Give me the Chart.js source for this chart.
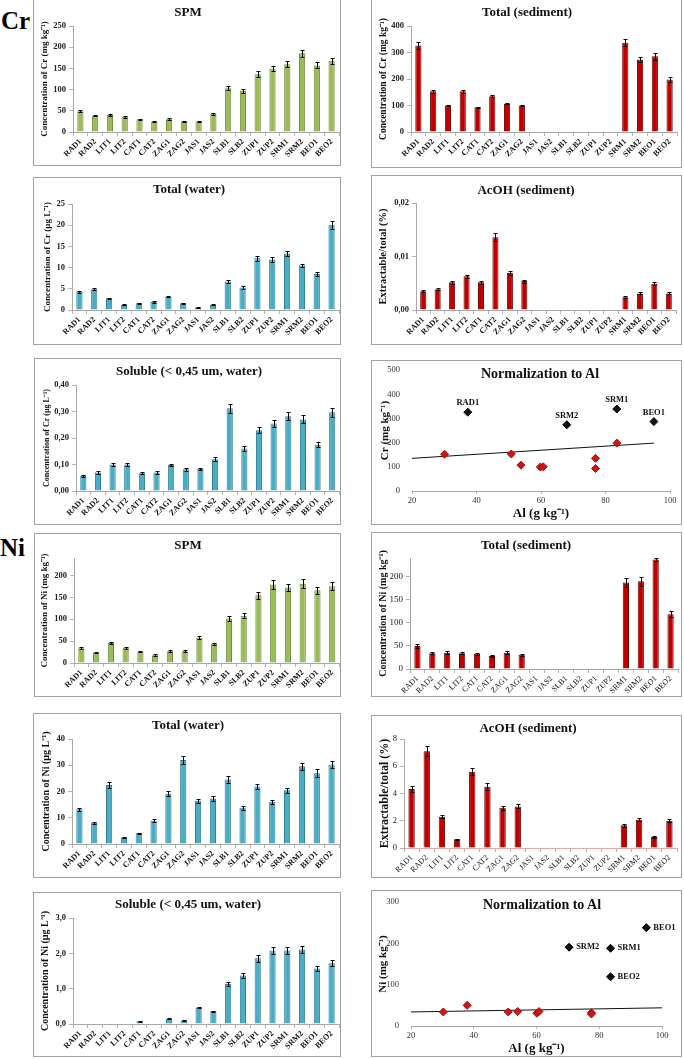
<!DOCTYPE html>
<html>
<head>
<meta charset="utf-8">
<script src="https://cdn.jsdelivr.net/npm/chart.js@4.4.1/dist/chart.umd.min.js"></script>
<style>
  body { margin: 0; background: #fff; width: 684px; height: 1059px; overflow: hidden; position: relative; font-family: "Liberation Serif", serif; }
  .panel { position: absolute; border: 1px solid #a3a3a3; box-sizing: border-box; background: #fff; }
  .panel canvas { position: absolute; left: 0; top: 0; }
  .ttl { position: absolute; transform: translate(-50%, -50%); font-weight: bold; white-space: nowrap; color: #111; }
  .el { position: absolute; font-weight: bold; font-size: 25px; line-height: 25px; color: #000; }
</style>
</head>
<body>
<div class="el" style="left:1px;top:8px">Cr</div>
<div class="el" style="left:0px;top:535px">Ni</div>
<script>
// sampling sites
const sites = ['RAD1','RAD2','LIT1','LIT2','CAT1','CAT2','ZAG1','ZAG2','JAS1','JAS2','SLB1','SLB2','ZUP1','ZUP2','SRM1','SRM2','BEO1','BEO2'];

// --- Cr ---
const crSpm    = [49, 39, 40, 36, 30, 25, 30, 24, 25, 43, 103, 97, 136, 150, 160, 186, 157, 168];
const crSpmErr = [3, 2, 2, 2, 1.5, 1.5, 2, 1.5, 1.5, 2, 5, 4, 7, 6, 7, 8, 7, 7];
const crSed    = [326, 154, 100, 154, 93, 135, 107, 100, null, null, null, null, null, null, 337, 274, 286, 198];
const crSedErr = [13, 6, 3, 6, 3, 4, 3, 3, null, null, null, null, null, null, 14, 10, 13, 9];
const crWater    = [4.3, 4.9, 2.75, 1.2, 1.6, 1.9, 3.1, 1.6, 0.55, 1.25, 6.7, 5.3, 12.2, 11.9, 13.3, 10.5, 8.5, 20.1];
const crWaterErr = [0.25, 0.3, 0.15, 0.1, 0.1, 0.15, 0.15, 0.1, 0.05, 0.1, 0.4, 0.3, 0.6, 0.6, 0.6, 0.45, 0.45, 1.0];
const crAcoh    = [0.0035, 0.0039, 0.0052, 0.0063, 0.0052, 0.0136, 0.0069, 0.0054, null, null, null, null, null, null, 0.0024, 0.0031, 0.0049, 0.0031];
const crAcohErr = [0.0002, 0.0002, 0.0003, 0.0003, 0.0003, 0.0007, 0.0004, 0.0003, null, null, null, null, null, null, 0.0002, 0.0002, 0.0003, 0.0002];
const crSol    = [0.057, 0.070, 0.100, 0.100, 0.067, 0.070, 0.098, 0.082, 0.083, 0.120, 0.312, 0.160, 0.229, 0.255, 0.282, 0.270, 0.175, 0.297];
const crSolErr = [0.004, 0.005, 0.006, 0.006, 0.004, 0.005, 0.005, 0.005, 0.005, 0.007, 0.017, 0.009, 0.012, 0.013, 0.015, 0.015, 0.009, 0.016];
// Cr vs Al
const crOutAl = [37.3, 68, 83.5, 95];
const crOut   = [326, 274, 339, 287];
const crOutLabels = ['RAD1', 'SRM2', 'SRM1', 'BEO1'];
const crAl    = [30.1, 50.8, 53.8, 59.8, 60.7, 76.9, 76.9, 83.5];
const crNorm  = [152, 153, 107, 99, 100, 135, 93, 198];
const crTrendAl = [20, 95];
const crTrend   = [135, 198];

// --- Ni ---
const niSpm    = [34, 23.6, 45.6, 35, 26, 18, 26.6, 26.6, 58, 44, 102, 108, 155, 179.5, 172.6, 181, 166.5, 175.7];
const niSpmErr = [2, 1.5, 3, 2, 1.5, 1.5, 2, 2, 3, 2.5, 6, 6, 8, 10, 9, 10, 8, 9];
const niSed    = [50, 34, 35, 34, 33, 28, 35, 31, null, null, null, null, null, null, 187, 190, 237, 118.5];
const niSedErr = [4, 2.5, 3, 2.5, 2.5, 2, 3, 2, null, null, null, null, null, null, 10, 10, 4, 7];
const niWater    = [13.2, 8.1, 22.5, 2.5, 4.05, 8.9, 19.1, 32, 16.5, 17.3, 24.6, 13.8, 21.9, 16.1, 20.5, 29.6, 27, 30.3];
const niWaterErr = [0.6, 0.4, 1.2, 0.2, 0.25, 0.6, 1.0, 1.6, 0.8, 0.8, 1.3, 0.8, 1.0, 0.8, 1.0, 1.4, 1.4, 1.5];
const niAcoh    = [4.33, 7.1, 2.3, 0.64, 5.6, 4.5, 2.95, 3.05, null, null, null, null, null, null, 1.67, 2.07, 0.8, 2.0];
const niAcohErr = [0.2, 0.35, 0.12, 0.05, 0.25, 0.25, 0.15, 0.15, null, null, null, null, null, null, 0.1, 0.12, 0.05, 0.12];
const niSol    = [null, null, null, null, 0.076, null, 0.15, 0.1, 0.47, 0.36, 1.13, 1.37, 1.86, 2.08, 2.08, 2.11, 1.57, 1.72];
const niSolErr = [null, null, null, null, 0.01, null, 0.015, 0.01, 0.025, 0.02, 0.06, 0.07, 0.1, 0.1, 0.1, 0.1, 0.08, 0.08];
// Ni vs Al
const niOutAl = [95, 70.4, 83.6, 83.6];
const niOut   = [238, 190.6, 188, 119];
const niOutLabels = ['BEO1', 'SRM2', 'SRM1', 'BEO2'];
const niAl    = [30.3, 37.9, 51, 54, 60.1, 60.8, 77.5, 77.5];
const niNorm  = [34, 50, 34, 35, 31, 35, 32, 29];
const niTrendAl = [20, 100];
const niTrend   = [34, 44];

const SERIF = '"Liberation Serif", "Times New Roman", serif';
const GREEN = ['#9bbb59', '#6f8a3a'];
const RED   = ['#c00000', '#7a0000'];
const BLUE  = ['#4bacc6', '#2a7d93'];

// error bars drawn through the y scale
const errorBars = {
  id: 'errorBars',
  afterDatasetsDraw(chart) {
    const ds = chart.data.datasets[0];
    if (!ds.errors) return;
    const ctx = chart.ctx, y = chart.scales.y;
    const meta = chart.getDatasetMeta(0);
    ctx.save();
    ctx.strokeStyle = '#000';
    ctx.lineWidth = 1;
    meta.data.forEach((bar, i) => {
      const v = ds.data[i], e = ds.errors[i];
      if (v == null || !e) return;
      const x = Math.round(bar.x) + 0.5;
      const y1 = Math.round(y.getPixelForValue(v - e)) + 0.5;
      const y2 = Math.round(y.getPixelForValue(v + e)) + 0.5;
      ctx.beginPath();
      ctx.moveTo(x, y1); ctx.lineTo(x, y2);
      ctx.moveTo(x - 2, y1); ctx.lineTo(x + 2, y1);
      ctx.moveTo(x - 2, y2); ctx.lineTo(x + 2, y2);
      ctx.stroke();
    });
    ctx.restore();
  }
};

// labels next to scatter points
const pointLabels = {
  id: 'pointLabels',
  afterDatasetsDraw(chart) {
    const ctx = chart.ctx;
    chart.data.datasets.forEach((ds, di) => {
      if (!ds.labels) return;
      const meta = chart.getDatasetMeta(di);
      ctx.save();
      ctx.font = ds.labelFont;
      ctx.fillStyle = '#111';
      meta.data.forEach((pt, i) => {
        if (ds.labelPos === 'right') {
          ctx.textAlign = 'left'; ctx.textBaseline = 'middle';
          ctx.fillText(ds.labels[i], pt.x + 7, pt.y);
        } else {
          ctx.textAlign = 'center'; ctx.textBaseline = 'bottom';
          ctx.fillText(ds.labels[i], pt.x, pt.y - 5);
        }
      });
      ctx.restore();
    });
  }
};

Chart.register(errorBars, pointLabels);

function makePanel(L, T, W, H) {
  const d = document.createElement('div');
  d.className = 'panel';
  d.style.left = L + 'px'; d.style.top = T + 'px';
  d.style.width = W + 'px'; d.style.height = H + 'px';
  const c = document.createElement('canvas');
  c.width = W - 2; c.height = H - 2;
  d.appendChild(c);
  document.body.appendChild(d);
  return c;
}

function addTitle(text, x, y, size) {
  const t = document.createElement('div');
  t.className = 'ttl';
  t.textContent = text;
  t.style.left = x + 'px'; t.style.top = y + 'px';
  t.style.fontSize = size + 'px';
  document.body.appendChild(t);
}

const comma = d => v => v.toFixed(d).replace('.', ',');

function barChart(g) {
  const cv = makePanel(g.L, g.T, g.W, g.H);
  const cx = g.L + 1, cy = g.T + 1, cw = g.W - 2, ch = g.H - 2;
  addTitle(g.title, g.tx, g.ty, 13);
  const tickW = g.light ? 'normal' : 'bold';
  new Chart(cv, {
    type: 'bar',
    data: {
      labels: sites,
      datasets: [{
        data: g.data,
        errors: g.err,
        backgroundColor: g.color[0],
        borderColor: g.color[1],
        borderWidth: 1,
        barPercentage: 0.42,
        categoryPercentage: 1
      }]
    },
    options: {
      responsive: false,
      animation: false,
      devicePixelRatio: 1,
      layout: { autoPadding: false, padding: { left: 0, top: g.top - cy, right: cx + cw - g.right, bottom: 0 } },
      plugins: { legend: { display: false }, tooltip: { enabled: false } },
      scales: {
        x: {
          grid: { drawOnChartArea: false, offset: true, tickLength: 4, color: '#b5b5b5' },
          border: { color: g.xLine || '#a8a8a8' },
          ticks: {
            minRotation: 45, maxRotation: 45, autoSkip: false, padding: 1,
            color: '#111', font: { family: SERIF, size: g.xSize || 8, weight: tickW }
          },
          afterFit: s => { s.height = cy + ch - g.bottom; }
        },
        y: {
          min: 0, max: g.max,
          afterBuildTicks: s => { s.ticks = s.ticks.filter(t => Math.abs(t.value / g.step - Math.round(t.value / g.step)) < 1e-6); },
          ticks: {
            stepSize: g.step, padding: 3, color: '#222',
            font: { family: SERIF, size: g.ySize || 8.5, weight: tickW },
            callback: g.fmt || (v => v)
          },
          grid: { drawOnChartArea: false, tickLength: 4, color: '#b5b5b5' },
          border: { color: '#a8a8a8' },
          title: {
            display: true, text: g.ytitle, color: '#111',
            font: { family: SERIF, size: g.ytSize, weight: 'bold' },
            padding: { top: g.ytX - g.ytSize * 0.6, bottom: 0 }
          },
          afterFit: s => { s.width = g.axisX - cx; }
        }
      }
    }
  });
}

function normChart(g) {
  const cv = makePanel(g.L, g.T, g.W, g.H);
  const cx = g.L + 1, cy = g.T + 1, cw = g.W - 2, ch = g.H - 2;
  addTitle('Normalization to Al', g.tx, g.ty, 14);
  new Chart(cv, {
    type: 'scatter',
    data: {
      datasets: [
        {
          data: g.al.map((x, i) => ({ x, y: g.vals[i] })),
          pointStyle: 'rectRot', pointRadius: 4,
          backgroundColor: '#d41414', borderColor: '#9a1010', borderWidth: 1
        },
        {
          data: g.outAl.map((x, i) => ({ x, y: g.out[i] })),
          labels: g.outLabels, labelPos: g.labelPos,
          labelFont: 'bold 8.5px ' + SERIF,
          pointStyle: 'rectRot', pointRadius: 4,
          backgroundColor: '#111', borderColor: '#000', borderWidth: 1
        },
        {
          type: 'line',
          data: g.trendAl.map((x, i) => ({ x, y: g.trend[i] })),
          borderColor: '#111', borderWidth: 1, pointRadius: 0, fill: false
        }
      ]
    },
    options: {
      responsive: false,
      animation: false,
      devicePixelRatio: 1,
      layout: { autoPadding: false, padding: { left: 0, top: g.top - cy, right: cx + cw - g.right, bottom: 0 } },
      plugins: { legend: { display: false }, tooltip: { enabled: false } },
      scales: {
        x: {
          type: 'linear', min: 20, max: 100,
          ticks: { stepSize: 20, padding: 2, color: '#333', font: { family: SERIF, size: 8.5 } },
          grid: { drawOnChartArea: false, tickLength: 3, color: '#b5b5b5' },
          border: { color: '#a8a8a8' },
          title: {
            display: true, text: 'Al (g kg\u207B\u00B9)', color: '#111',
            font: { family: SERIF, size: 13, weight: 'bold' },
            padding: { top: 0, bottom: g.xtPad }
          },
          afterFit: s => { s.height = cy + ch - g.bottom; }
        },
        y: {
          min: 0, max: g.max,
          ticks: { stepSize: 100, padding: 4, color: '#333', font: { family: SERIF, size: 8.5 } },
          grid: { display: false },
          border: { display: false },
          title: {
            display: true, text: g.ytitle, color: '#111',
            font: { family: SERIF, size: 11, weight: 'bold' },
            padding: { top: g.ytX - 6.6, bottom: 0 }
          },
          afterFit: s => { s.width = g.left - cx; }
        }
      }
    }
  });
}

// ---------- Cr ----------
barChart({ L: 33, T: -1, W: 308, H: 167, axisX: 73, top: 26, bottom: 132, right: 339,
  data: crSpm, err: crSpmErr, color: GREEN, max: 250, step: 50,
  ytitle: 'Concentration of Cr (mg kg\u207B\u00B9)', ytSize: 9, ytX: 11,
  title: 'SPM', tx: 188, ty: 12 });

barChart({ L: 371, T: -1, W: 311, H: 169, axisX: 411, top: 26, bottom: 132, right: 677,
  data: crSed, err: crSedErr, color: RED, max: 400, step: 100,
  ytitle: 'Concentration of Cr (mg kg\u207B\u00B9)', ytSize: 9.5, ytX: 11.3,
  title: 'Total (sediment)', tx: 527, ty: 12 });

barChart({ L: 33, T: 177, W: 308, H: 168, axisX: 72, top: 204, bottom: 310, right: 339,
  data: crWater, err: crWaterErr, color: BLUE, max: 25, step: 5,
  ytitle: 'Concentration of Cr (\u00B5g L\u207B\u00B9)', ytSize: 9, ytX: 13.3,
  title: 'Total (water)', tx: 189, ty: 189 });

barChart({ L: 371, T: 175, W: 311, H: 170, axisX: 416, top: 203, bottom: 310, right: 676,
  data: crAcoh, err: crAcohErr, color: RED, max: 0.02, step: 0.01, fmt: comma(2),
  ytitle: 'Extractable/total (%)', ytSize: 10.5, ytX: 11.3,
  title: 'AcOH (sediment)', tx: 526, ty: 190 });

barChart({ L: 34, T: 358, W: 307, H: 167, axisX: 76, top: 385, bottom: 491, right: 340,
  data: crSol, err: crSolErr, color: BLUE, max: 0.4, step: 0.1, fmt: comma(2),
  ytitle: 'Concentration of Cr (\u00B5g L\u207B\u00B9)', ytSize: 8, ytX: 11.7,
  title: 'Soluble (< 0,45 um, water)', tx: 189, ty: 371 });

normChart({ L: 371, T: 360, W: 311, H: 165, left: 412, top: 368, bottom: 491, right: 670,
  al: crAl, vals: crNorm, outAl: crOutAl, out: crOut, outLabels: crOutLabels, labelPos: 'top',
  trendAl: crTrendAl, trend: crTrend, max: 500, xtPad: 3,
  ytitle: 'Cr (mg kg\u207B\u00B9)', ytX: 13, tx: 540, ty: 374 });

// ---------- Ni ----------
barChart({ L: 34, T: 533, W: 307, H: 164, axisX: 74, top: 558, bottom: 663, right: 340,
  data: niSpm, err: niSpmErr, color: GREEN, max: 240, step: 50,
  ytitle: 'Concentration of Ni (mg kg\u207B\u00B9)', ytSize: 9, ytX: 9.3,
  title: 'SPM', tx: 188, ty: 545 });

barChart({ L: 371, T: 532, W: 311, H: 165, axisX: 410, top: 558, bottom: 669, right: 678,
  data: niSed, err: niSedErr, color: RED, max: 240, step: 50, light: true, ySize: 9, xSize: 8,
  ytitle: 'Concentration of Ni (mg kg\u207B\u00B9)', ytSize: 10, ytX: 11.3,
  title: 'Total (sediment)', tx: 526, ty: 545 });

barChart({ L: 33, T: 713, W: 308, H: 165, axisX: 72, top: 739, bottom: 844, right: 339,
  data: niWater, err: niWaterErr, color: BLUE, max: 40, step: 10,
  ytitle: 'Concentration of Ni (\u00B5g L\u207B\u00B9)', ytSize: 10, ytX: 12.7,
  title: 'Total (water)', tx: 188, ty: 725 });

barChart({ L: 371, T: 715, W: 311, H: 163, axisX: 404, top: 739, bottom: 848, right: 677,
  data: niAcoh, err: niAcohErr, color: RED, max: 8, step: 2, light: true, ySize: 8.5, xSize: 8,
  xLine: '#e8a8a8',
  ytitle: 'Extractable/total (%)', ytSize: 12, ytX: 13,
  title: 'AcOH (sediment)', tx: 528, ty: 728 });

barChart({ L: 33, T: 892, W: 308, H: 165, axisX: 73, top: 918, bottom: 1024, right: 339,
  data: niSol, err: niSolErr, color: BLUE, max: 3, step: 1, fmt: comma(1),
  ytitle: 'Concentration of Ni (\u00B5g L\u207B\u00B9)', ytSize: 10, ytX: 11,
  title: 'Soluble (< 0,45 um, water)', tx: 188, ty: 904 });

normChart({ L: 371, T: 890, W: 311, H: 167, left: 411, top: 902, bottom: 1026, right: 662,
  al: niAl, vals: niNorm, outAl: niOutAl, out: niOut, outLabels: niOutLabels, labelPos: 'right',
  trendAl: niTrendAl, trend: niTrend, max: 300, xtPad: 0,
  ytitle: 'Ni (mg kg\u207B\u00B9)', ytX: 11.3, tx: 542, ty: 905 });
</script>
</body>
</html>
